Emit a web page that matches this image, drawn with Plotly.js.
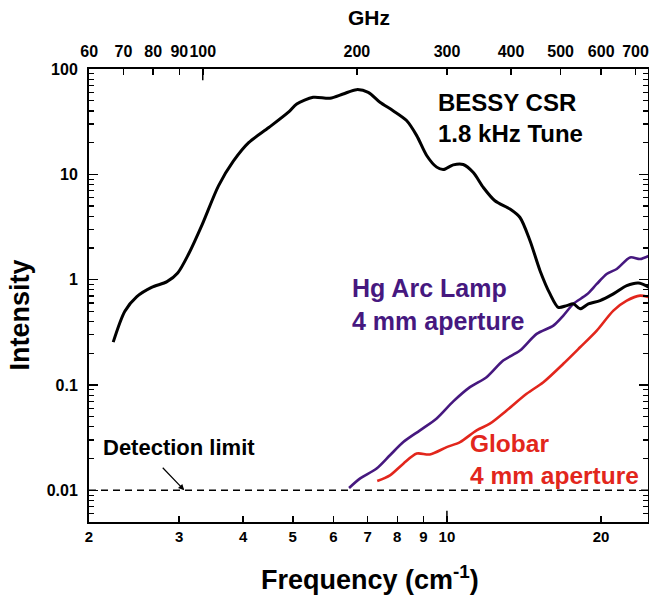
<!DOCTYPE html>
<html><head><meta charset="utf-8">
<script src="https://cdn.plot.ly/plotly-3.0.1.min.js"></script>
<style>body{margin:0;background:#fff}#chart{width:649px;height:599px}</style>
</head><body><div id="chart"></div>
<script>
// BESSY CSR, 1.8 kHz tune
const csrFreq = [2.23,2.35,2.48,2.65,2.84,2.98,3.13,3.33,3.58,3.83,4.10,4.49,4.91,5.09,5.48,5.91,6.27,6.66,7.02,7.40,7.85,8.34,8.73,9.13,9.55,9.84,10.29,10.76,11.26,11.78,12.41,13.28,13.89,14.53,15.20,15.90,16.50,17.14,17.66,18.20,18.89,19.91,21.14,22.45,23.66,24.83];
const csrInt  = [0.255,0.501,0.690,0.845,0.957,1.157,1.752,3.37,7.78,13.4,20.0,27.8,39.1,46.6,53.9,52.8,57.9,63.7,60.1,48.3,40.2,32.4,23.3,15.1,11.7,11.1,12.3,12.4,10.4,7.50,5.61,4.68,3.89,2.34,1.217,0.732,0.546,0.567,0.589,0.528,0.589,0.632,0.732,0.877,0.931,0.845];
// Hg arc lamp, 4 mm aperture
const hgFreq = [6.44,6.76,7.29,7.74,8.22,8.86,9.55,10.29,11.09,11.95,12.88,13.89,14.97,16.14,16.88,17.66,18.75,19.62,20.51,21.46,22.79,23.84,24.83];
const hgInt  = [0.0105,0.0129,0.0161,0.0215,0.0287,0.0371,0.0481,0.0698,0.0953,0.1186,0.1706,0.2123,0.3055,0.3664,0.456,0.589,0.721,0.910,1.132,1.263,1.627,1.571,1.689];
// Globar, 4 mm aperture
const globarFreq = [7.31,7.74,8.22,8.73,9.26,9.99,10.61,11.43,12.13,13.08,14.31,15.43,16.88,18.20,19.62,21.14,22.45,23.84,24.83];
const globarInt  = [0.01225,0.01387,0.0179,0.0223,0.0219,0.0257,0.0287,0.0371,0.0429,0.0573,0.0825,0.1063,0.159,0.228,0.3286,0.5085,0.632,0.705,0.680];
// Detection limit
const detFreq = [2, 24.7];
const detInt = [0.01, 0.01];

const xTickVals = [2,3,4,5,6,7,8,9,10,20];
const yTickVals = [0.01,0.1,1,10,100];
const yTickText = ['0.01','0.1','1','10','100'];
const ghzTickVals = [60,70,80,90,100,200,300,400,500,600,700];
const CM_TO_GHZ = 29.9792458;
const xMin = 2, xMax = 24.7, yMin = 0.005, yMax = 100;

const yMinor = [];
for (let e = -3; e <= 1; e++) for (let m = 2; m <= 9; m++) {
  const v = m * Math.pow(10, e);
  if (v >= yMin && v <= yMax) yMinor.push(+v.toPrecision(3));
}

const FONT = 'Liberation Sans, Arial, Helvetica, sans-serif';
const BLACK = '#000000', PURPLE = '#46187f', RED = '#e2261c';

const traces = [
  {x: detFreq, y: detInt, mode: 'lines', line: {color: BLACK, width: 1.5, dash: '7px,5px'}, hoverinfo: 'skip'},
  {x: hgFreq, y: hgInt, mode: 'lines', line: {color: PURPLE, width: 2.6, shape: 'spline', smoothing: 0.8}},
  {x: globarFreq, y: globarInt, mode: 'lines', line: {color: RED, width: 2.6, shape: 'spline', smoothing: 0.8}},
  {x: csrFreq, y: csrInt, mode: 'lines', line: {color: BLACK, width: 3, shape: 'spline', smoothing: 0.8}},
  {x: detFreq.map(f => f * CM_TO_GHZ), y: detInt, xaxis: 'x2', mode: 'lines', opacity: 0, hoverinfo: 'skip', line: {width: 0.1}}
];

const tickFont = {family: FONT, size: 16, color: BLACK, weight: 'bold'};

const layout = {
  width: 649, height: 599,
  margin: {l: 89, r: 1, t: 69, b: 77},
  paper_bgcolor: '#fff', plot_bgcolor: '#fff',
  showlegend: false,
  font: {family: FONT, color: BLACK},
  xaxis: {
    type: 'log', range: [Math.log10(xMin), Math.log10(xMax)],
    tickmode: 'array', tickvals: xTickVals, ticktext: xTickVals.map(String), tickangle: 0,
    ticks: 'inside', ticklen: 6, tickwidth: 1.5, tickcolor: BLACK,
    showline: true, linewidth: 2, linecolor: BLACK,
    showgrid: false, zeroline: false, tickfont: {family: FONT, size: 15, color: BLACK, weight: 'bold'}, ticklabelstandoff: 0
  },
  xaxis2: {
    type: 'log', overlaying: 'x', side: 'top', anchor: 'y',
    range: [Math.log10(xMin * CM_TO_GHZ), Math.log10(xMax * CM_TO_GHZ)],
    tickmode: 'array', tickvals: ghzTickVals, ticktext: ghzTickVals.map(String), tickangle: 0,
    ticks: 'inside', ticklen: 6, tickwidth: 1.5, tickcolor: BLACK,
    showline: true, linewidth: 2, linecolor: BLACK,
    showgrid: false, zeroline: false, tickfont: tickFont, ticklabelstandoff: 4
  },
  yaxis: {
    type: 'log', range: [Math.log10(yMin), Math.log10(yMax)],
    tickmode: 'array', tickvals: yTickVals, ticktext: yTickText,
    ticks: 'inside', ticklen: 9, tickwidth: 1.5, tickcolor: BLACK,
    minor: {tickmode: 'array', tickvals: yMinor, ticks: 'inside', ticklen: 5, tickwidth: 1.2, tickcolor: BLACK, showgrid: false},
    showline: true, linewidth: 2, linecolor: BLACK, mirror: 'ticks',
    showgrid: false, zeroline: false, tickfont: tickFont, ticklabelstandoff: 6
  },
  shapes: [
    {type: 'line', xref: 'x', yref: 'paper', x0: 10, x1: 10, y0: 0, y1: 0.025, line: {color: BLACK, width: 1.5}},
    {type: 'line', xref: 'x2', yref: 'paper', x0: 100, x1: 100, y0: 1, y1: 0.975, line: {color: BLACK, width: 1.5}}
  ],
  annotations: [
    {xref: 'paper', yref: 'paper', x: 0.5, y: 1.114, xanchor: 'center', yanchor: 'middle', text: 'GHz', showarrow: false, font: {family: FONT, size: 21, weight: 'bold'}},
    {xref: 'paper', yref: 'paper', x: 0.503, y: -0.1233, xanchor: 'center', yanchor: 'middle', text: 'Frequency (cm<sup>-1</sup>)', showarrow: false, font: {family: FONT, size: 27, weight: 'bold'}},
    {xref: 'paper', yref: 'paper', x: -0.1234, y: 0.456, xanchor: 'center', yanchor: 'middle', text: 'Intensity', textangle: -90, showarrow: false, font: {family: FONT, size: 27, weight: 'bold'}},
    {xref: 'paper', yref: 'paper', x: 0.621, y: 0.8926, xanchor: 'left', yanchor: 'middle', align: 'left', text: 'BESSY CSR<br>1.8 kHz Tune', showarrow: false, font: {family: FONT, size: 24, weight: 'bold', color: BLACK}},
    {xref: 'paper', yref: 'paper', x: 0.467, y: 0.481, xanchor: 'left', yanchor: 'middle', align: 'left', text: 'Hg Arc Lamp<br>4 mm aperture', showarrow: false, font: {family: FONT, size: 25, weight: 'bold', color: PURPLE}},
    {xref: 'paper', yref: 'paper', x: 0.678, y: 0.139, xanchor: 'left', yanchor: 'middle', align: 'left', text: 'Globar<br>4 mm aperture', showarrow: false, font: {family: FONT, size: 24.5, weight: 'bold', color: RED}},
    {xref: 'paper', yref: 'paper', x: 0.161, y: 0.165, xanchor: 'center', yanchor: 'middle', text: 'Detection limit', showarrow: false, font: {family: FONT, size: 22, weight: 'bold', color: BLACK}},
    {xref: 'x', yref: 'y', x: Math.log10(3.07), y: Math.log10(0.01), text: '', showarrow: true, arrowhead: 2, arrowsize: 1, arrowwidth: 1.2, arrowcolor: BLACK, ax: -23, ay: -24, standoff: 0, startstandoff: 0}
  ]
};

Plotly.newPlot('chart', traces, layout, {displayModeBar: false, staticPlot: true});
</script>
</body></html>
